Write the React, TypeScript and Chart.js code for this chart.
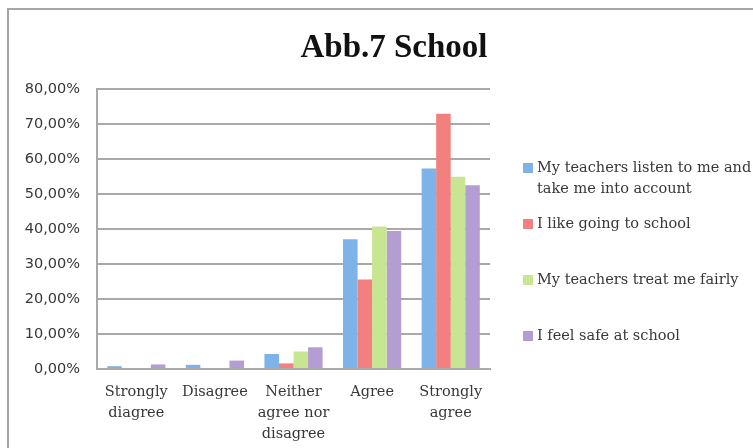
import React, { useEffect, useRef } from 'react';
import { Chart, registerables } from 'chart.js';

Chart.register(...registerables);

const TITLE = 'Abb.7 School';
const CATEGORIES: string[][] = [
  ['Strongly', 'diagree'],
  ['Disagree'],
  ['Neither', 'agree nor', 'disagree'],
  ['Agree'],
  ['Strongly', 'agree'],
];
const SERIES_LABELS = [
  'My teachers listen to me and take me into account',
  'I like going to school',
  'My teachers treat me fairly',
  'I feel safe at school',
];
const LISTEN = [0.8, 1.2, 4.3, 37.1, 57.3];
const LIKE = [0, 0, 1.6, 25.6, 72.9];
const FAIR = [0, 0, 5.0, 40.7, 54.9];
const SAFE = [1.3, 2.4, 6.2, 39.4, 52.5];
const SERIES_VALUES = [LISTEN, LIKE, FAIR, SAFE];
const COLORS = ['#7DB3E8', '#F2807E', '#C8E691', '#B39DD3'];
const Y_MIN = 0;
const Y_MAX = 80;
const Y_STEP = 10;

const W = 753;
const H = 448;
const GRID = '#a9a9a9';
const TEXT = '#383838';

const framePlugin = {
  id: 'frame',
  beforeDraw(chart: any) {
    const ctx = chart.ctx;
    ctx.save();
    ctx.fillStyle = '#ffffff';
    ctx.fillRect(0, 0, chart.width, chart.height);
    ctx.strokeStyle = '#a6a6a6';
    ctx.lineWidth = 2;
    ctx.beginPath();
    ctx.moveTo(8, chart.height + 2);
    ctx.lineTo(8, 9);
    ctx.lineTo(chart.width + 2, 9);
    ctx.stroke();
    ctx.restore();
  },
};

const titlePlugin = {
  id: 'customTitle',
  afterDraw(chart: any) {
    const ctx = chart.ctx;
    ctx.save();
    ctx.fillStyle = '#111111';
    ctx.font = 'bold 33px "Liberation Serif", serif';
    ctx.textAlign = 'center';
    ctx.textBaseline = 'alphabetic';
    ctx.fillText(TITLE, 394, 57);
    ctx.restore();
  },
};

const legendPlugin = {
  id: 'customLegend',
  afterDraw(chart: any) {
    const ctx = chart.ctx;
    ctx.save();
    ctx.font = '14.5px "DejaVu Serif", serif';
    ctx.textBaseline = 'middle';
    ctx.textAlign = 'left';
    const boxX = 523;
    const textX = 537;
    const maxW = chart.width - textX;
    const startY = 168;
    const step = 56;
    chart.data.datasets.forEach((ds: any, i: number) => {
      const words = String(ds.label).split(' ');
      const lines: string[] = [];
      let cur = '';
      words.forEach((w) => {
        const test = cur ? cur + ' ' + w : w;
        if (ctx.measureText(test).width > maxW && cur) {
          lines.push(cur);
          cur = w;
        } else {
          cur = test;
        }
      });
      if (cur) lines.push(cur);
      const y = startY + i * step;
      ctx.fillStyle = ds.backgroundColor;
      ctx.fillRect(boxX, y - 5, 10, 10);
      ctx.fillStyle = TEXT;
      lines.forEach((ln, k) => ctx.fillText(ln, textX, y + k * 21));
    });
    ctx.restore();
  },
};

export default function App() {
  const ref = useRef<HTMLCanvasElement | null>(null);

  useEffect(() => {
    if (!ref.current) return;
    const chart = new Chart(ref.current, {
      type: 'bar',
      data: {
        labels: CATEGORIES,
        datasets: SERIES_LABELS.map((label, i) => ({
          label,
          data: SERIES_VALUES[i],
          backgroundColor: COLORS[i],
          borderWidth: 0,
          categoryPercentage: 0.74,
          barPercentage: 1,
        })),
      },
      options: {
        responsive: false,
        animation: false,
        layout: { padding: { left: 0, top: 89, right: 263, bottom: 0 } },
        plugins: {
          legend: { display: false },
          title: { display: false },
          tooltip: { enabled: false },
        },
        scales: {
          x: {
            grid: { display: false, drawTicks: false },
            border: { display: true, color: GRID, width: 2 },
            ticks: {
              color: TEXT,
              font: { family: '"DejaVu Serif", serif', size: 14.5, lineHeight: 1.45 },
              padding: 13,
              maxRotation: 0,
              autoSkip: false,
            },
            afterFit: (s: any) => {
              s.height = 79;
            },
          },
          y: {
            min: Y_MIN,
            max: Y_MAX,
            grid: { color: GRID, lineWidth: 2, drawTicks: false },
            border: { display: true, color: GRID, width: 2 },
            ticks: {
              stepSize: Y_STEP,
              color: TEXT,
              font: { family: '"DejaVu Sans", sans-serif', size: 14.5 },
              padding: 17,
              callback: (v: any) => Number(v).toFixed(2).replace('.', ',') + '%',
            },
            afterFit: (s: any) => {
              s.width = 97;
            },
          },
        },
      },
      plugins: [framePlugin, titlePlugin, legendPlugin],
    });
    return () => chart.destroy();
  }, []);

  return (
    <div style={{ position: 'fixed', left: 0, top: 0, width: W, height: H, background: '#fff' }}>
      <canvas ref={ref} width={W} height={H} style={{ display: 'block', width: W, height: H }} />
    </div>
  );
}
